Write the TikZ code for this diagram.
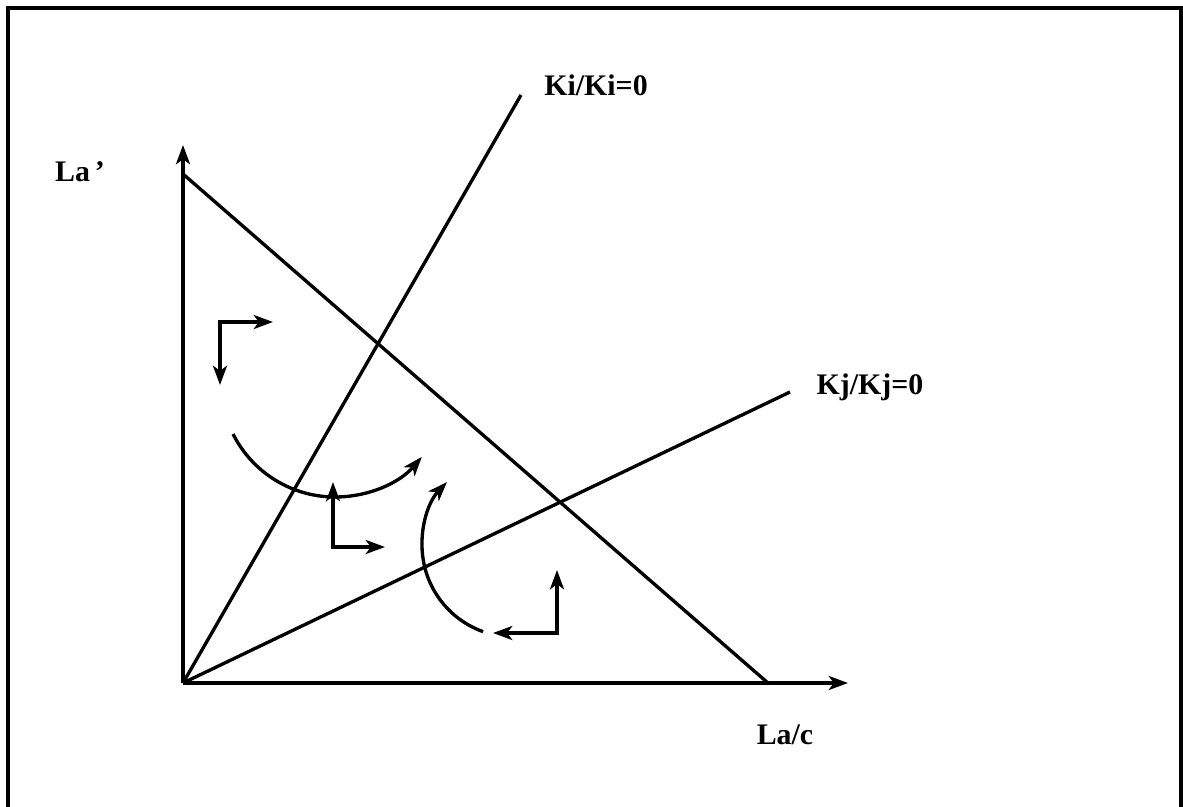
\documentclass[tikz,border=0pt]{standalone}
\usepackage{fontspec}
\setmainfont{Liberation Serif}
\usetikzlibrary{arrows.meta, calc}

\begin{document}
\begin{tikzpicture}[x=0.02cm, y=0.02cm, line width=1.9pt,
  head/.style={-{Stealth[length=11pt,width=8pt,inset=3pt]}},
  twoheads/.style={{Stealth[length=11pt,width=8pt,inset=3pt]}-{Stealth[length=11pt,width=8pt,inset=3pt]}},
  lbl/.style={font=\fontsize{17}{20}\selectfont\bfseries, inner sep=0pt}]

\useasboundingbox (0,0) rectangle (1183,806);

%frame
  \draw (8,-4) rectangle (1181,798);

%points
  \coordinate (O)    at (183,123);
  \coordinate (Ytop) at (183,661);
  \coordinate (Xend) at (848,123);
  \coordinate (Bup)  at (183,632);
  \coordinate (Bdn)  at (768,123);
  \coordinate (Ki)   at (521,711);
  \coordinate (Kj)   at (790,414);

%axes and lines
  \draw[head] (O) -- (Ytop);
  \draw[head] (O) -- (Xend);
  \draw (Bup) -- (Bdn);
  \draw (O) -- (Ki);
  \draw (O) -- (Kj);

%labels
  \node[lbl] (lay) at (80,634) {La\,'};
  \node[lbl] (lki) at (596,721) {Ki/Ki=0};
  \node[lbl] (lkj) at (870,419) {Kj/Kj=0};
  \node[lbl] (lax) at (785,71)  {La/c};

%corner arrows
  \coordinate (LAc) at (220,484);
  \coordinate (LAh) at (273,484);
  \coordinate (LAv) at (220,421);
  \coordinate (LBc) at (333,259);
  \coordinate (LBv) at (333,324);
  \coordinate (LBh) at (385,259);
  \coordinate (LCc) at (557,173);
  \coordinate (LCv) at (557,236);
  \coordinate (LCh) at (493,173);
  \draw[twoheads] (LAh) -- (LAc) -- (LAv);
  \draw[twoheads] (LBv) -- (LBc) -- (LBh);
  \draw[twoheads] (LCv) -- (LCc) -- (LCh);

%curved arrows
  \coordinate (arcAc) at (335,423);
  \coordinate (arcBc) at (514,261);
  \coordinate (arcAs) at ($(arcAc)+(206.6:114)$);
  \coordinate (arcBs) at ($(arcBc)+(250.4:92)$);
  \draw[head] (arcAs) arc[start angle=206.6, end angle=319.6, radius=114];
  \draw[head] (arcBs) arc[start angle=250.4, end angle=136.8, radius=92];
\end{tikzpicture}
\end{document}
